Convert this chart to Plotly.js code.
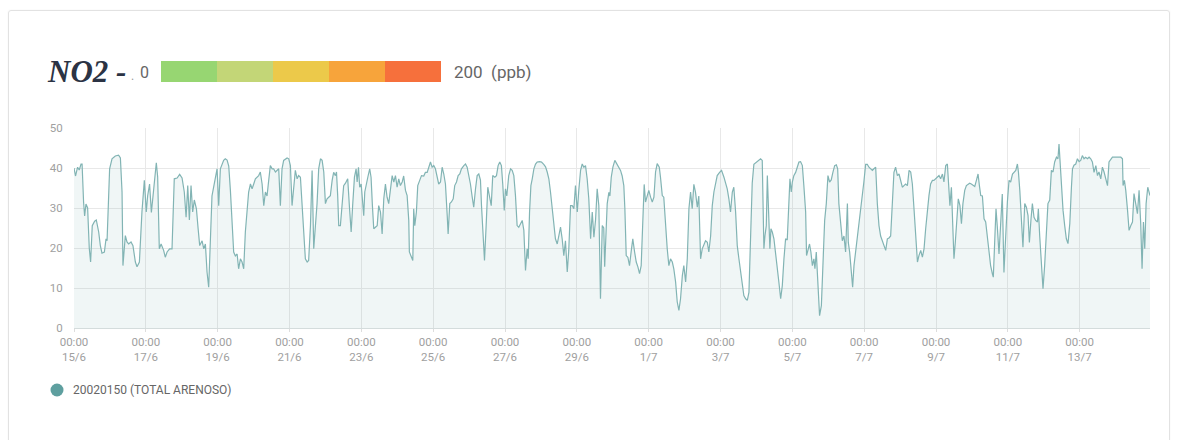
<!DOCTYPE html>
<html>
<head>
<meta charset="utf-8">
<script src="https://cdn.plot.ly/plotly-3.0.1.min.js"></script>
<style>
html,body{margin:0;padding:0;background:#fff;}
#wrap{position:relative;width:1180px;height:440px;overflow:hidden;}
#card{position:absolute;left:8px;top:10px;width:1160px;height:460px;border:1px solid #e2e2e2;border-radius:3px;box-shadow:0 0 2px rgba(0,0,0,0.05);pointer-events:none;}
#chart{position:absolute;left:0;top:0;width:1180px;height:440px;}
</style>
</head>
<body>
<div id="wrap"><div id="card"></div><div id="chart"></div></div>
<script>
// ---- data ----
const startDate = '2021-06-15T00:00:00';
const seriesName = '20020150 (TOTAL ARENOSO)';
const pollutant = 'NO2 -';
const scaleMin = '0';
const scaleMax = '200&nbsp;&nbsp;(ppb)';
const scaleColors = ['#97d672', '#c3d677', '#ecc94a', '#f7a43b', '#f6703c'];
const xTickFormat = '%H:%M<br>%-d/%-m';

// hours elapsed since 15/6 00:00
const hoursFromStart = [
0,1,2.4,3.5,4.7,5.4,6.4,7.1,8,9.1,10.2,11.1,12.2,13.8,14.9,16.5,17.6,18.7,20.3,21.4,22.1,23.8,25.4,27.6,29.8,31,32.1,32.7,34.3,35.4,36.5,38.1,39.4,41,42.1,43.7,45.4,47,48.3,49.2,50.5,51.7,52.8,53.9,55,55.9,57,58.2,59.9,61,62.2,63.9,65.5,67,68.9,70.6,72.2,73.7,74.9,76,77.1,78.2,79.3,80.4,81.8,82.9,84,
85.6,86.7,87.8,88.9,90,91.1,92.2,93.3,94.5,95.6,96.7,97.8,100,101.1,102.3,103.4,104.5,105.6,106.7,107.8,109,110,111.2,112.3,113.4,114.5,115.7,116.7,117.9,119,120.1,121.2,123.4,124.5,125.7,126.8,127.9,129,130.1,131.2,132.4,133.4,134.6,136.8,137.9,139,140.1,142.4,143.5,144.6,145.7,146.8,147.9,149.1,150.1,151.3,152.4,153.5,154.6,155.8,156.8,158,159.1,160.2,161.3,162.4,163.5,164.7,165.8,166.9,168,169.1,170.2,171.3,172.5,173.5,174.7,
175.4,176.2,176.9,178,179.2,180.2,181.4,182.9,184,185.2,186.2,187.4,188.5,189.2,190.1,190.9,191.9,192.5,193.6,194.3,195.4,196.5,197.6,198.5,199.4,200.3,201.4,202.6,203.6,204.8,205.9,207,208.1,209.2,210.3,211.4,212.6,213.7,214.8,215.9,217,218.1,219.3,220.3,221.5,222.6,223.7,224.1,225.5,226.4,227,227.7,228.8,229.7,231,232.2,233.7,234.8,236,237.1,238.2,239.3,240.4,241.5,242.7,243.7,244.9,246,247.1,248.2,249.4,250,251.1,252.2,253.4,254.4,255.6,256.7,257.8,258.9,260.5,261.6,262.7,263.8,264.9,
266.1,267.1,268.3,269.4,270.5,271.6,272.3,273.2,274.3,275.4,276.5,277.6,278.8,279.8,281.2,282.3,283.4,284.5,285.6,286.5,287.5,288.3,289.2,290.5,291.7,292.8,293.9,295,296.1,297.2,298.4,299.5,300.6,301.7,302.8,303.5,304.4,305.3,306.2,307.3,308.4,309.5,311.1,312.4,313.9,315.1,316.2,317.3,318.4,319.5,320.6,321.7,322.9,324,325.1,326.2,327.3,328.4,329.6,330.6,331.8,332.9,334,335.1,336.3,337.3,338.5,339.6,340.7,341.8,342.9,344,345.2,346.3,347.4,348.5,349.6,350.7,351.8,353,354,354.6,
355.6,356.3,357.4,358.1,359,360.1,361.4,362.5,364.1,365.2,366.3,367.4,368.1,369,370.1,371.2,372.4,373.4,374.6,375.7,376.8,377.9,379,380.1,381,381.9,383.1,384.1,385.3,386.4,387.5,388.6,389.7,391.1,391.9,393.1,394.1,395.3,396.4,397.5,398.6,399.8,400.8,402,403.1,404.2,405.3,406.5,407.5,408.7,409.8,410.9,412,413.1,414.2,415.3,416.5,417.5,418.7,419.8,420.9,422,423.2,424.2,425.4,426.5,427.6,428.7,429.8,431.4,432.7,434.3,435.4,436.5,437.6,438.7,439.9,440.9,442.1,443.2,444.3,445.4,
446.6,447.6,448.8,449.9,451,452.1,453.2,454.3,455.4,456.6,457.7,458.8,459.9,461,461.7,462.6,463.3,464.4,465,465.7,466.6,467.7,468.8,470,471,472.2,473.3,474.4,475.5,476.6,477.7,478.4,479.3,480,481,482.2,483.3,484.4,485.5,486.7,487.7,488.9,489.5,490.4,491.5,492.4,493.4,494.4,495.1,496,497.1,498.2,499.4,500.4,501.6,502.7,503.8,504.9,506,507.1,508.3,509.4,510.3,511.1,512.3,513.4,514.5,515.6,516.8,517.4,518.3,519.4,520.3,521.2,522.3,523.4,524.5,525.6,526.8,527.8,529,530.1,531.2,533.5,534.5,535.7,
536.8,537.9,539,540.1,541.2,542.4,543.5,544.6,545.7,546.8,547.9,549,550.2,551.3,552.4,553.5,554.6,555.7,556.9,558,559.1,560.2,561.3,562.4,563.6,564.6,565.8,566.9,568,569.1,570.2,571.3,572.4,573.6,574.6,575.8,576.9,578,579.1,580.3,581.3,582.5,583.6,584.7,585.3,586.3,587.2,588,588.9,589.8,590.9,592,593,594,595.2,596.3,597.4,598.5,599.6,600.7,601.9,603,604.1,605,605.9,607,608.1,609.2,610.3,611.4,612.5,613.7,614.3,615.2,616.1,617,618.1,619.2,620.3,621.4,622.6,623.7,624.8,625.9,
627.1,628.1,629.3,630.4,631.1,632,633.1,634.1,635.3,636.4,637.5,638.4,639.5,640.4,641.5,642.6,643.8,644.4,645.3,646.4,647.5,648.6,649.8,650.8,652,653.1,654.2,655.3,656.5,657.5,658.2,658.9,660,660.9,662,663.1,664.2,665.4,666.5,667.2,668.2,669.4,670.5,671.6,672.7,673.8,674.9,676,677.2,678.3,679.4,680.5,681.6,682.8,683.9,684.9,686.1,687.2,688.3,689.4,690.6,691.6,692.8,693.9,696.1,698.3,699.5,700.6,701,701.9,702.8,704,705,706.2,707.3,708.3,709.5,710.6,711.7,712.8,713.7,714.6,715.5,716.4,717.5,719
];

// NO2 concentration (ppb)
const no2 = [
40,38,40.2,39.5,41,41,31.5,28,31,30,20,16.5,25.6,26.7,27,24,20.6,18.7,19,22.3,21.8,39.8,42.3,43,43.2,42.5,34,15.6,23.1,21.5,21,21.5,20.6,16.5,15.3,16.5,29,36.9,29,33,36,28.9,33,38.1,41.3,37.8,19.8,21,19.4,17.7,19,19.8,19.8,37.3,37.5,38.4,37.5,34,27.7,35.6,27,35.6,29,32,29.8,25,20.6,
21.8,19.8,21,14,10.2,19.8,33,35.2,37.3,39.8,30.6,39.8,41.9,42.3,42,40.5,34.4,25.6,19,18,18.5,14.8,17.3,16.5,14.8,24,29.8,34,36,34.8,36,37.3,38.1,39,36,30.6,34,33,36.9,40.6,39.8,39.8,39,39.8,30.6,39.8,41.9,42.5,42.3,40.6,30.6,34.8,39.4,37.3,38.1,37.7,30.6,22.3,17.3,16.5,16.9,25.6,39.4,19.8,25.6,31.1,39.8,42.3,41.9,39,31.1,32.3,32.7,33.1,36.9,38.9,38.1,
39,33.1,25.6,25.6,30.6,35.6,36.2,37.3,30.6,24,30.6,37.7,39.8,36.5,40.2,35.2,36,33.1,28.1,34,36.5,38,39.8,37.7,30.6,24.8,25.2,25.6,30.6,29,23.5,32.3,36,32.7,31.1,34.8,38.1,36.5,38.1,35.2,37.3,35.6,36.5,38,34.4,33.1,26.9,19,17.7,16.9,29.8,25.6,29,35.6,36.9,38.1,38,38.9,38.9,40.2,41.5,40.2,40.6,39.8,38.1,36,36.5,40.2,38.5,36,28.1,23.5,31.1,31.5,32.3,35.6,36.5,38.1,38.5,39.8,40.6,41,40.2,38.5,36,
32.7,30.2,34.8,38.1,38.5,37,30.6,25.6,16.9,25.6,35.2,33,30.6,38.1,37.7,38.1,40.6,41.5,40.6,36,29.4,34.8,33,38.1,39.8,39.4,38.1,33.1,25.6,25.2,26,26.9,24.4,14.4,19.8,17.3,28.9,35.6,37.3,39.8,41,41.5,41.6,41.5,40.9,40.3,39,37.3,34,30.6,26.5,22.3,21,23,25.2,22.3,18.1,21.8,14,19.4,30.6,30.6,29.8,35.6,29,34.4,39.4,41,40.2,40.6,37.3,32.3,22.3,29,22.7,27,34.8,30.6,7.3,25.6,25,15.3,
25.6,31.1,33.9,33,37.7,40.2,41.9,41.1,40.2,39.4,38,35.6,29.8,18.1,17.7,15.6,19.4,22.3,19,16.5,15.3,13.6,15.6,26.9,35.9,31.5,33.1,34.4,32.7,31.5,32.7,39,41.1,40.2,37.7,33.1,32.7,24.4,19.8,15.6,17.3,16.5,14.8,11.5,6.5,4.4,7.3,13.1,15.6,11.5,17.3,29.8,34,29.8,35.9,33.9,30.2,33,17.3,19.8,20.6,21.8,21.4,19,23,30.6,34,36.5,38.1,38.9,39.4,37.7,36.5,34.8,32.3,29,34,35.2,29,20.6,17.3,14,
10.6,8.1,7.3,6.9,8.9,25.6,36.2,40.9,41.2,41.6,41.9,42.3,41.9,19.8,23,25.6,38.1,25.6,19.8,24.8,24,22.3,19,15.6,11.5,7.3,10.6,17.3,22.3,22,30.6,37.3,34,36.5,38.1,38.9,40.2,41.5,41.6,40.6,35.6,29,18.1,19.8,21,19,15.6,17.3,14.8,19,10.6,3.1,5.6,17.3,26.9,31.1,38.1,36.5,37,38.9,40.6,40.8,39.8,31.1,26.5,21.8,23,19,31.1,21.4,19,14.8,10.2,15.6,19,22.3,24.8,29,32.3,36.5,40.9,40.9,40.2,39.4,39.8,40.2,
31.1,25.6,23,21.8,20.2,19.4,22.3,22.5,23,29.8,38.9,40.2,38.1,38.5,36.9,35.2,35.6,36,35.6,39.4,39,36,29.8,23,16.5,18.1,19.4,17.7,19.8,24.8,29.8,33.1,36,36.9,36.9,37.3,37.7,38.1,37.3,38.5,36.5,40.6,41,34.8,30.6,35.2,25.6,17.3,21.4,26.1,32.3,30.6,26.1,31.1,34.4,35.6,36,36.2,36,35.6,35.4,36.9,38.5,35.6,33.1,33,27.3,26.5,23,19.8,15.6,13.5,12.7,21.4,29.8,25.2,18.5,26,33.5,13.9,25.2,31.5,36.9,36.5,
38.5,38.9,39.4,41,38.9,34.4,26.1,20.2,31.1,30.2,28.1,21.4,27.3,31.1,27.7,26.9,26.5,29.8,23,15.6,9.8,15.6,23,31.1,32,39.4,39,41.5,42.7,42.3,46,41.5,34.4,29.4,25.6,22.3,21.1,26.1,35.2,39.8,40.7,41,42.3,41.6,41.9,43.1,42.3,42.7,42.3,42.7,42.3,41.5,38.9,40.6,38.1,39,37.3,40.2,39,37.3,35.6,41.5,42.3,42.7,42.7,42.7,42.7,42.3,35.6,36.9,34.4,29.4,24.4,25.6,26.5,33.6,30.6,28.6,34.4,26.1,14.8,26.5,19.8,31.1,35.2,33.1
];

// ---- build ----
const t0 = new Date(startDate + 'Z').getTime();
const iso = ms => new Date(ms).toISOString().slice(0, 19).replace('T', ' ');
const xs = hoursFromStart.map(h => iso(t0 + h * 3600e3));
const xEnd = iso(t0 + hoursFromStart[hoursFromStart.length - 1] * 3600e3);

const W = 1180, H = 440;
const M = {l: 74, r: 30, t: 128, b: 112};
const pw = W - M.l - M.r, ph = H - M.t - M.b;
const px = p => (p - M.l) / pw;
const py = p => (H - M.b - p) / ph;

const tickFont = {family: 'Roboto, sans-serif', size: 11.5, color: '#a0a0a0'};

const trace = {
  x: xs, y: no2, type: 'scatter', mode: 'lines', name: seriesName,
  line: {color: '#82b4b4', width: 1.2},
  fill: 'tozeroy', fillcolor: 'rgba(110,165,165,0.10)',
  hoverinfo: 'x+y', showlegend: false
};

const shapes = [];
const segW = 56;
scaleColors.forEach((c, i) => {
  shapes.push({type: 'rect', xref: 'paper', yref: 'paper', layer: 'above',
    x0: px(161 + i * segW), x1: px(161 + (i + 1) * segW), y0: py(82), y1: py(61),
    fillcolor: c, line: {width: 0}});
});
// legend dot
shapes.push({type: 'circle', xref: 'paper', yref: 'paper',
  x0: px(50.5), x1: px(63.5), y0: py(396.5), y1: py(383.5),
  fillcolor: '#5e9f9f', line: {width: 0}});

const annotations = [
  {text: '<b><i>' + pollutant + '</i></b>', xref: 'paper', yref: 'paper', x: px(45), y: py(71),
   xanchor: 'left', yanchor: 'middle', showarrow: false,
   font: {family: 'Liberation Serif, serif', size: 31, color: '#2b3344'}},
  {text: '.', xref: 'paper', yref: 'paper', x: px(129), y: py(76),
   xanchor: 'left', yanchor: 'middle', showarrow: false,
   font: {family: 'Roboto, sans-serif', size: 12, color: '#999'}},
  {text: scaleMin, xref: 'paper', yref: 'paper', x: px(138), y: py(72),
   xanchor: 'left', yanchor: 'middle', showarrow: false,
   font: {family: 'Roboto, sans-serif', size: 16, color: '#666'}},
  {text: scaleMax, xref: 'paper', yref: 'paper', x: px(452), y: py(72),
   xanchor: 'left', yanchor: 'middle', showarrow: false,
   font: {family: 'Roboto, sans-serif', size: 17, color: '#666'}},
  {text: seriesName, xref: 'paper', yref: 'paper', x: px(71), y: py(390),
   xanchor: 'left', yanchor: 'middle', showarrow: false,
   font: {family: 'Roboto, sans-serif', size: 12, color: '#666'}}
];

const layout = {
  width: W, height: H, margin: M,
  paper_bgcolor: 'rgba(0,0,0,0)', plot_bgcolor: 'rgba(0,0,0,0)',
  showlegend: false,
  xaxis: {
    type: 'date', range: [xs[0], xEnd], tick0: xs[0], dtick: 2 * 86400000,
    tickformat: xTickFormat, tickfont: tickFont,
    showgrid: true, gridcolor: '#e8e8e8', gridwidth: 1,
    showline: true, linecolor: '#d4dcdc', linewidth: 1,
    ticks: 'outside', ticklen: 3, tickcolor: '#dddddd',
    zeroline: false, fixedrange: true
  },
  yaxis: {
    range: [0, 50], dtick: 10, tick0: 0, tickfont: tickFont,
    showgrid: true, gridcolor: '#e8e8e8', gridwidth: 1,
    zeroline: false, showline: false,
    ticks: 'outside', ticklen: 8, tickcolor: 'rgba(0,0,0,0)',
    fixedrange: true
  },
  shapes: shapes,
  annotations: annotations
};

Plotly.newPlot('chart', [trace], layout, {displayModeBar: false, staticPlot: true});
</script>
</body>
</html>
